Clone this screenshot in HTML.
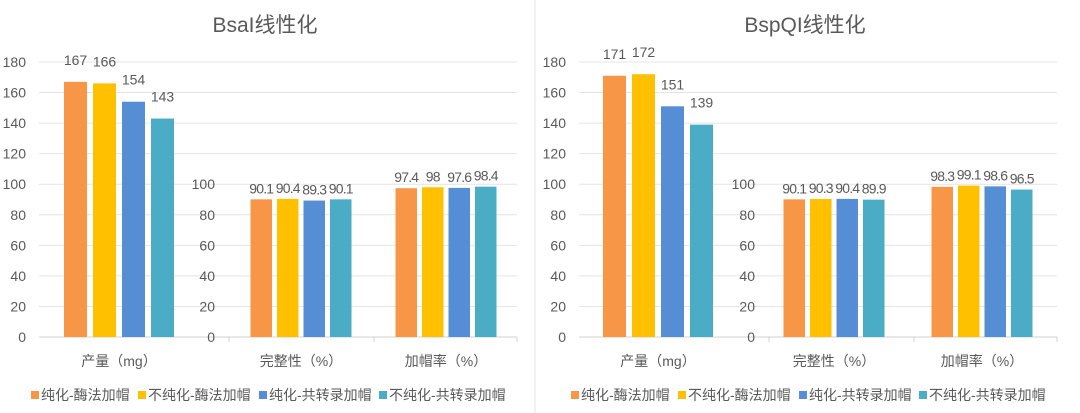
<!DOCTYPE html>
<html><head><meta charset="utf-8">
<style>
html,body{margin:0;padding:0;background:#fff;}
svg{display:block;font-family:"Liberation Sans","Noto Sans CJK SC",sans-serif;}
</style></head>
<body>
<svg id="c" width="1080" height="413" viewBox="0 0 1080 413">
<line x1="535" y1="0" x2="535" y2="413" stroke="#e6e6e6"/>
</svg>
<script>
const categories = ["产量（mg）","完整性（%）","加帽率（%）"];
const seriesNames = ["纯化-酶法加帽","不纯化-酶法加帽","纯化-共转录加帽","不纯化-共转录加帽"];
const chartTitles = ["BsaI线性化","BspQI线性化"];
const bsaIValues = [[167,90.1,97.4],[166,90.4,98],[154,89.3,97.6],[143,90.1,98.4]];
const bspQIValues = [[171,90.1,98.3],[172,90.3,99.1],[151,90.4,98.6],[139,89.9,96.5]];
const yTicks = [0,20,40,60,80,100,120,140,160,180];
const yTicks2 = [0,20,40,60,80,100];

const colors = ["#F79646","#FFC000","#558ED5","#4BACC6"];
const svg = document.getElementById('c');
const NS = "http://www.w3.org/2000/svg";
function mk(tag, attrs, text){const e=document.createElementNS(NS,tag);for(const k in attrs)e.setAttribute(k,attrs[k]);if(text!==undefined)e.textContent=text;svg.appendChild(e);return e;}
const y0 = 337, yTop = 62, yMax = 180;
function yS(v){return y0 - v/yMax*(y0-yTop);}

function drawChart(ox, title, values, centers, key){
  const gx1 = ox+39, gx2 = ox+517;
  let t=mk('text',{x:ox+265,y:32,'text-anchor':'middle','font-size':21,fill:'#595959'},title);
  
  
  yTicks.forEach(v=>{
    const y=yS(v);
    let l=mk('line',{x1:gx1,x2:gx2,y1:y,y2:y,stroke:v===0?'#d0d0d0':'#e4e4e4','stroke-width':1});
    
    
    let tx=mk('text',{x:ox+26,y:y+5,'text-anchor':'end','font-size':14,fill:'#595959'},v);
    
    
  });
  yTicks2.forEach(v=>{
    const y=yS(v);
    let tx=mk('text',{x:ox+215,y:y+5,'text-anchor':'end','font-size':14,fill:'#595959'},v);
    
    
  });
  [229,374,517].forEach(x=>{
    let l=mk('line',{x1:ox+x,x2:ox+x,y1:y0,y2:y0+5,stroke:'#d0d0d0'});
    
    
  });
  categories.forEach((c,ci)=>{
    const cx=ox+centers[ci];
    const step = ci===0?29:26.5, bw = ci===0?23:21.5;
    values.forEach((ser,si)=>{
      const v=ser[ci];
      const x=cx+(si-1.5)*step-bw/2;
      let r=mk('rect',{x:x,y:yS(v),width:bw,height:y0-yS(v),fill:colors[si]});
      
      
      let lb=mk('text',{x:x+bw/2,y:yS(v)-(ci===0?17:6),'text-anchor':'middle','font-size':ci===0?14:14,fill:'#595959','letter-spacing':ci===0?0:-0.8},v);
      
      
    });
    let cl=mk('text',{x:cx,y:366,'text-anchor':'middle','font-size':14,fill:'#595959'},c);
    
    
  });
  const lx=[31,138,259,379];
  seriesNames.forEach((n,i)=>{
    let s=mk('rect',{x:ox+lx[i],y:391,width:8,height:8,fill:colors[i]});
    
    
    let tx=mk('text',{x:ox+lx[i]+10,y:400,'font-size':14,fill:'#595959'},n);
    
    
  });
}
drawChart(0, chartTitles[0], bsaIValues, [119,301,446], 'bsai');
drawChart(540, chartTitles[1], bspQIValues, [118,294,442], 'bspqi');
</script>
</body></html>
